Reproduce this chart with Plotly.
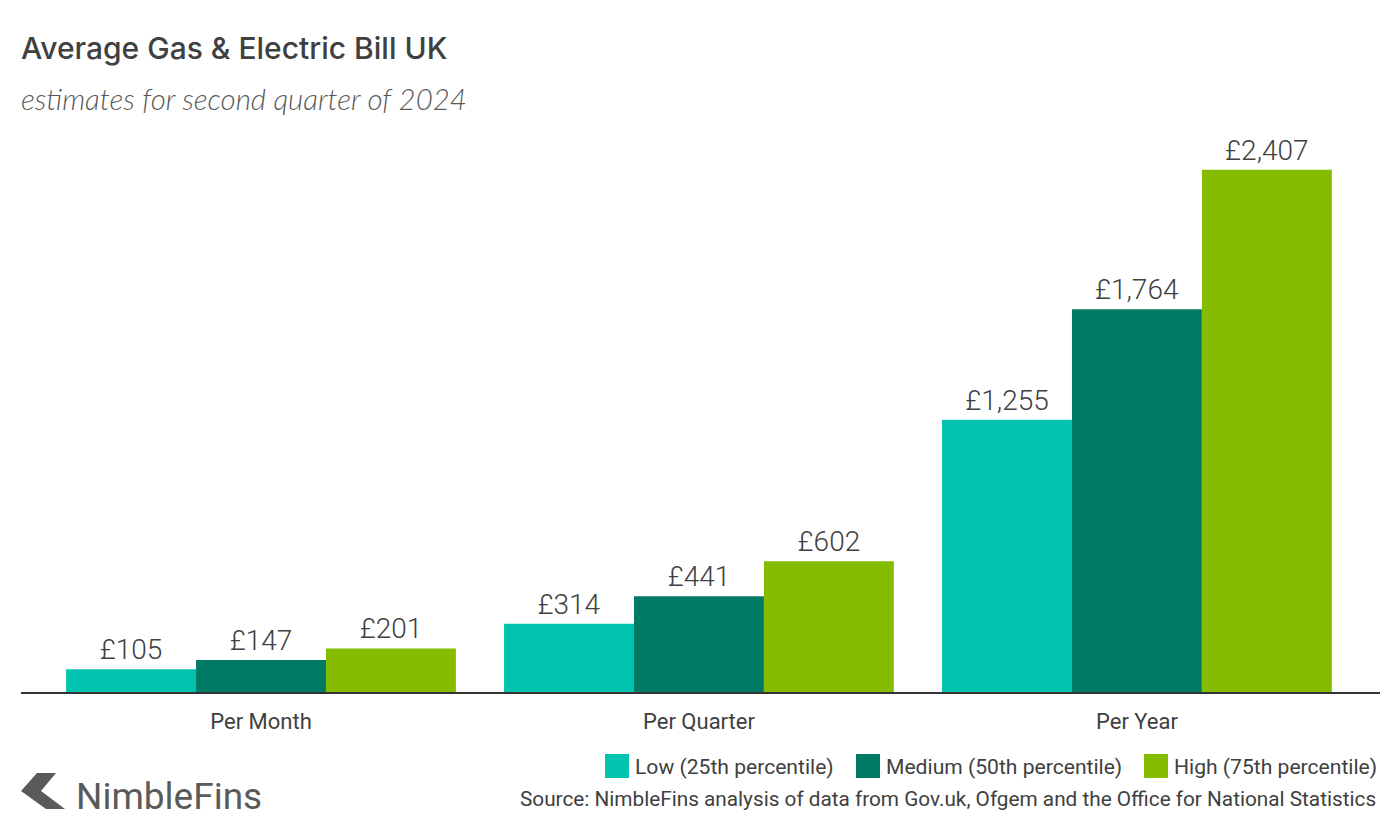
import plotly.graph_objects as go

categories = ["Per Month", "Per Quarter", "Per Year"]
low = [105, 314, 1255]
medium = [147, 441, 1764]
high = [201, 602, 2407]
series_names = ["Low (25th percentile)", "Medium (50th percentile)", "High (75th percentile)"]
colors = ["#00c4ad", "#007a65", "#85bc00"]

# the page keeps its 8px body margin, so the figure is 16px smaller than the window
PAGE = 8
W, H = 1384, 824
L, R, T, B = 13, 12, 122, 140
TEXT = "#404040"
FONT = "Roboto"


# window pixels to paper fractions, for everything that sits outside the plot
def px(x):
    return (x - PAGE - L) / (W - L - R)


def py(y):
    return 1 - (y - PAGE - T) / (H - T - B)


fig = go.Figure()
for name, vals, col in zip(series_names, [low, medium, high], colors):
    fig.add_trace(go.Bar(x=categories, y=vals, name=name, marker=dict(color=col, line=dict(width=0)),
                         texttemplate="£%{y:,}", textposition="outside", cliponaxis=False,
                         textfont=dict(size=28, color=TEXT, family=FONT, weight=300)))

fig.update_layout(
    width=W, height=H,
    autosize=False,
    barmode="group", bargap=0.11, bargroupgap=0,
    showlegend=False,
    margin=dict(l=L, r=R, t=T, b=B, autoexpand=False),
    paper_bgcolor="white", plot_bgcolor="white",
    font=dict(family=FONT, color=TEXT),
    xaxis=dict(range=[-0.548, 2.555], showgrid=False, showline=True, linecolor="#333333", linewidth=2,
               ticks="outside", ticklen=9, tickcolor="rgba(0,0,0,0)", tickfont=dict(size=22, color=TEXT, family=FONT)),
    yaxis=dict(range=[0, 2590], visible=False),
)


def note(x, y, text, size, anchor="left", **kw):
    fig.add_annotation(xref="paper", yref="paper", x=px(x), y=py(y), text=text, showarrow=False,
                       xanchor=anchor, yanchor="middle", borderpad=0, borderwidth=0,
                       font=dict(size=size, color=kw.pop("color", TEXT), family=kw.pop("family", FONT), **kw))


note(21, 48, "Average Gas & Electric Bill UK", 30, family="Inter", weight=500)
note(21, 98.5, "<i>estimates for second quarter of 2024</i>", 29.4, family="Lato", weight=300, color="#595959")

# legend, drawn by hand for the large square swatches
for x, label, col in zip([605, 856, 1144], series_names, colors):
    fig.add_shape(type="rect", xref="paper", yref="paper", x0=px(x), x1=px(x + 24), y0=py(754), y1=py(778),
                  fillcolor=col, line_width=0)
    note(x + 30, 766.5, label, 21.1)

note(1376, 799, "Source: NimbleFins analysis of data from Gov.uk, Ofgem and the Office for National Statistics", 20.75, anchor="right")

# logo
logo = [(37, 773), (56, 773), (41, 791), (65, 809), (46, 809), (21, 791)]
path = "M" + " L".join(f"{px(a):.5f},{py(b):.5f}" for a, b in logo) + " Z"
fig.add_shape(type="path", xref="paper", yref="paper", path=path, fillcolor="#5a5a5a", line_width=0)
note(76, 797, "NimbleFins", 37, color="#5a5a5a", weight=400)

fig.write_html("out.html")
